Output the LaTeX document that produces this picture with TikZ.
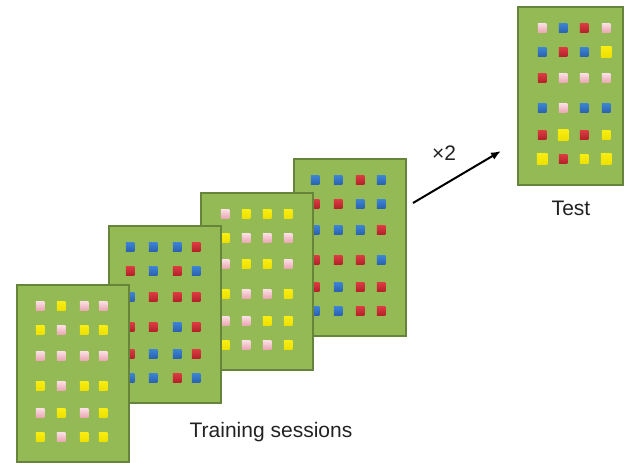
\documentclass[tikz,border=0pt]{standalone}
\usepackage{fontspec}
\setmainfont{Liberation Sans}
\usetikzlibrary{arrows.meta}
\definecolor{pgreen}{HTML}{93BA55}
\definecolor{pborder}{HTML}{66853A}
\definecolor{pinkT}{HTML}{FADCE2}
\definecolor{pinkB}{HTML}{EBA7B3}
\definecolor{yelT}{HTML}{F8EC10}
\definecolor{yelB}{HTML}{EEE000}
\definecolor{bluT}{HTML}{3C82D2}
\definecolor{bluB}{HTML}{2A62B0}
\definecolor{redT}{HTML}{DA3A40}
\definecolor{redB}{HTML}{B5212A}
\definecolor{txt}{HTML}{222222}
\tikzset{
  panelbox/.style={draw=pborder, line width=2.4pt, fill=pgreen, inner sep=0pt,
    anchor=north west, minimum width=112pt, minimum height=177pt},
  testbox/.style={panelbox, minimum width=105pt, minimum height=178pt},
  sqbase/.style={inner sep=0pt, minimum size=8.5pt, draw=none},
  sqP/.style={sqbase, top color=pinkT, bottom color=pinkB},
  sqY/.style={sqbase, top color=yelT, bottom color=yelB},
  sqZ/.style={sqY, minimum size=10.5pt},
  sqB/.style={sqbase, top color=bluT, bottom color=bluB},
  sqR/.style={sqbase, top color=redT, bottom color=redB},
  lbl/.style={font=\fontsize{21}{25}\selectfont, text=txt, inner sep=0pt},
  arr/.style={-{Latex[length=10pt,width=8pt]}, line width=2pt, black}
}
\foreach \ry [count=\i from 0] in {22,46,72,102,129,153} {
  \expandafter\xdef\csname myrowy\i\endcsname{\ry}
}
% #1 name, #2 x, #3 y, #4 box style, #5 column offsets, #6 rows
\newcommand\mypanel[6]{%
  \node[#4] (#1) at (#2,#3) {};
  \foreach \cx [count=\j from 0] in {#5} {
    \expandafter\xdef\csname mycolx\j\endcsname{\cx}
  }
  \foreach \rowlist [count=\r from 0] in {#6} {
    \foreach \c [count=\k from 0] in \rowlist {
      \pgfmathsetmacro\sx{#2+\csname mycolx\k\endcsname}
      \pgfmathsetmacro\sy{#3+\csname myrowy\r\endcsname}
      \node[sq\c] (#1-\r-\k) at (\sx,\sy) {};
    }
  }
}
\begin{document}
\begin{tikzpicture}[x=1pt,y=-1pt]
\useasboundingbox (0,0) rectangle (633,463);
\mypanel{p4}{293}{158}{panelbox}{22,45,67,88}{{B,B,R,B},{R,R,B,B},{B,B,B,R},{R,R,R,B},{R,B,R,R},{B,B,R,R}}
\mypanel{p3}{200}{192}{panelbox}{25,46,67,88}{{P,Y,Y,Y},{Y,P,P,P},{P,Y,Y,P},{Y,P,P,Y},{P,P,Y,Y},{Y,P,P,Y}}
\mypanel{p2}{108}{225}{panelbox}{22,45,69,88}{{B,B,B,R},{R,B,R,B},{B,R,R,R},{R,R,B,R},{R,B,B,R},{B,B,R,B}}
\mypanel{p1}{16}{284}{panelbox}{24,45,68,87}{{P,Y,P,P},{Y,P,Y,Y},{P,P,P,P},{Y,P,Y,Y},{P,Y,P,Y},{Y,P,Y,Y}}
\mypanel{test}{517}{6}{testbox}{25,46,67,89}{{P,B,R,P},{B,R,B,Z},{R,P,P,P},{B,P,B,B},{R,Z,R,Y},{Z,R,Y,Z}}
\node[lbl] (train) at (271,432) {Training sessions};
\node[lbl] (testlbl) at (571,208) {Test};
\node[lbl] (times) at (444,153) {×2};
\coordinate (as) at (413,203);
\coordinate (ae) at (501,151);
\draw[arr] (as) -- (ae);
\end{tikzpicture}
\end{document}
